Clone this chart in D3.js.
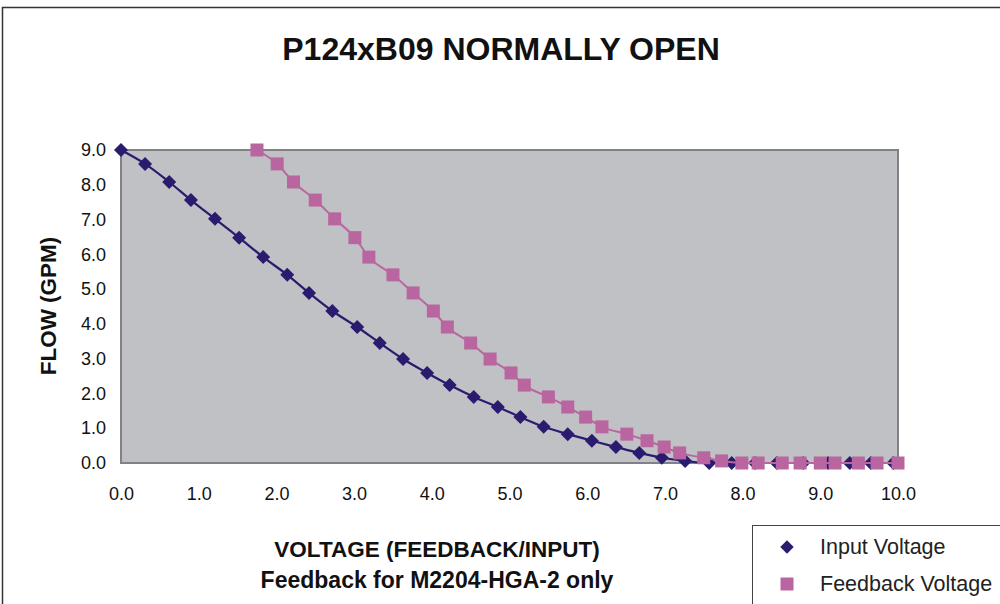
<!DOCTYPE html>
<html>
<head>
<meta charset="utf-8">
<script src="https://cdn.jsdelivr.net/npm/d3@7"></script>
<style>
  body { margin: 0; background: #fff; }
  text { font-family: "Liberation Sans", Arial, sans-serif; }
</style>
</head>
<body>
<div id="chart"></div>
<script>
// flow values (GPM) shared by both series
var flow = [9.0, 8.6, 8.08, 7.56, 7.02, 6.48, 5.92, 5.41, 4.89, 4.37, 3.91, 3.45, 2.99, 2.59, 2.24, 1.9, 1.61, 1.32, 1.04, 0.83, 0.64, 0.46, 0.29, 0.15, 0.06, 0, 0, 0, 0, 0, 0, 0, 0, 0];
// input voltage (diamonds)
var inputVolts = [0.0, 0.31, 0.62, 0.9, 1.21, 1.52, 1.83, 2.14, 2.42, 2.72, 3.04, 3.33, 3.63, 3.94, 4.23, 4.54, 4.85, 5.14, 5.44, 5.75, 6.06, 6.37, 6.67, 6.96, 7.26, 7.57, 7.86, 8.16, 8.44, 8.78, 9.1, 9.38, 9.65, 9.94];
// feedback voltage (squares)
var feedbackVolts = [1.75, 2.01, 2.22, 2.5, 2.75, 3.01, 3.19, 3.5, 3.76, 4.02, 4.2, 4.5, 4.75, 5.02, 5.19, 5.5, 5.75, 5.98, 6.19, 6.51, 6.77, 6.99, 7.19, 7.5, 7.73, 7.99, 8.2, 8.51, 8.74, 9.0, 9.19, 9.49, 9.73, 10.0];

var xTicks = [0, 1, 2, 3, 4, 5, 6, 7, 8, 9, 10];
var yTicks = [0, 1, 2, 3, 4, 5, 6, 7, 8, 9];

var width = 1000;
var height = 604;
var margin = { top: 150, right: 102, bottom: 141, left: 121 };

var svg = d3.select("#chart")
  .append("svg")
  .attr("width", width)
  .attr("height", height);

// outer chart border (only top/left visible in the crop)
svg.append("path")
  .attr("d", "M2.5," + height + "V7.5H" + width)
  .attr("fill", "none")
  .attr("stroke", "#333")
  .attr("stroke-width", 1.5);

var x = d3.scaleLinear()
  .domain([0, 10])
  .range([margin.left, width - margin.right]);

var y = d3.scaleLinear()
  .domain([0, 9])
  .range([height - margin.bottom, margin.top]);

// plot area
svg.append("rect")
  .attr("x", x(0))
  .attr("y", y(9))
  .attr("width", x(10) - x(0))
  .attr("height", y(0) - y(9))
  .attr("fill", "#c0c1c5")
  .attr("stroke", "#808285")
  .attr("stroke-width", 2);

// axes
var xAxis = svg.append("g")
  .attr("transform", "translate(0," + y(0) + ")")
  .call(d3.axisBottom(x).tickValues(xTicks).tickSize(0).tickPadding(24).tickFormat(d3.format(".1f")));
xAxis.select(".domain").remove();
xAxis.selectAll("text")
  .style("font-size", "18px")
  .style("fill", "#111");

var yAxis = svg.append("g")
  .attr("transform", "translate(" + x(0) + ",0)")
  .call(d3.axisLeft(y).tickValues(yTicks).tickSize(0).tickPadding(15).tickFormat(d3.format(".1f")));
yAxis.select(".domain").remove();
yAxis.selectAll("text")
  .style("font-size", "18px")
  .style("fill", "#111");

var inputData = inputVolts.map(function(v, i) { return [v, flow[i]]; });
var feedbackData = feedbackVolts.map(function(v, i) { return [v, flow[i]]; });

var line = d3.line()
  .x(function(d) { return x(d[0]); })
  .y(function(d) { return y(d[1]); })
  .curve(d3.curveMonotoneX);

var navy = "#2b1b6f";
var pink = "#b966a0";

// input voltage series
svg.append("path")
  .datum(inputData)
  .attr("d", line)
  .attr("fill", "none")
  .attr("stroke", navy)
  .attr("stroke-width", 2.2);

svg.append("g")
  .selectAll("path")
  .data(inputData)
  .enter().append("path")
  .attr("d", d3.symbol().type(d3.symbolDiamond2).size(125))
  .attr("transform", function(d) { return "translate(" + x(d[0]) + "," + y(d[1]) + ")"; })
  .attr("fill", navy);

// feedback voltage series
svg.append("path")
  .datum(feedbackData)
  .attr("d", line)
  .attr("fill", "none")
  .attr("stroke", pink)
  .attr("stroke-width", 2);

svg.append("g")
  .selectAll("rect")
  .data(feedbackData)
  .enter().append("rect")
  .attr("x", function(d) { return x(d[0]) - 6.5; })
  .attr("y", function(d) { return y(d[1]) - 6.5; })
  .attr("width", 13)
  .attr("height", 13)
  .attr("fill", pink);

// title
svg.append("text")
  .attr("x", 501)
  .attr("y", 60)
  .style("text-anchor", "middle")
  .style("font-size", "32px")
  .style("font-weight", "bold")
  .style("fill", "#111")
  .text("P124xB09 NORMALLY OPEN");

// x axis titles
svg.append("text")
  .attr("x", 437)
  .attr("y", 557)
  .style("text-anchor", "middle")
  .style("font-size", "22.5px")
  .style("font-weight", "bold")
  .style("fill", "#111")
  .text("VOLTAGE (FEEDBACK/INPUT)");

svg.append("text")
  .attr("x", 437)
  .attr("y", 588)
  .style("text-anchor", "middle")
  .style("font-size", "23px")
  .style("font-weight", "bold")
  .style("fill", "#111")
  .text("Feedback for M2204-HGA-2 only");

// y axis title
svg.append("text")
  .attr("transform", "translate(56,306) rotate(-90)")
  .style("text-anchor", "middle")
  .style("font-size", "22.5px")
  .style("font-weight", "bold")
  .style("fill", "#111")
  .text("FLOW (GPM)");

// legend
var legend = svg.append("g");
legend.append("rect")
  .attr("x", 752.5)
  .attr("y", 525.5)
  .attr("width", 260)
  .attr("height", 100)
  .attr("fill", "#fff")
  .attr("stroke", "#444")
  .attr("stroke-width", 1);

legend.append("path")
  .attr("d", d3.symbol().type(d3.symbolDiamond2).size(115))
  .attr("transform", "translate(787,547)")
  .attr("fill", navy);
legend.append("rect")
  .attr("x", 780.5)
  .attr("y", 577.5)
  .attr("width", 13)
  .attr("height", 13)
  .attr("fill", pink);

legend.append("text")
  .attr("x", 820)
  .attr("y", 554)
  .style("font-size", "21.5px")
  .style("fill", "#222")
  .text("Input Voltage");
legend.append("text")
  .attr("x", 820)
  .attr("y", 591)
  .style("font-size", "21.5px")
  .style("fill", "#222")
  .text("Feedback Voltage");
</script>
</body>
</html>
